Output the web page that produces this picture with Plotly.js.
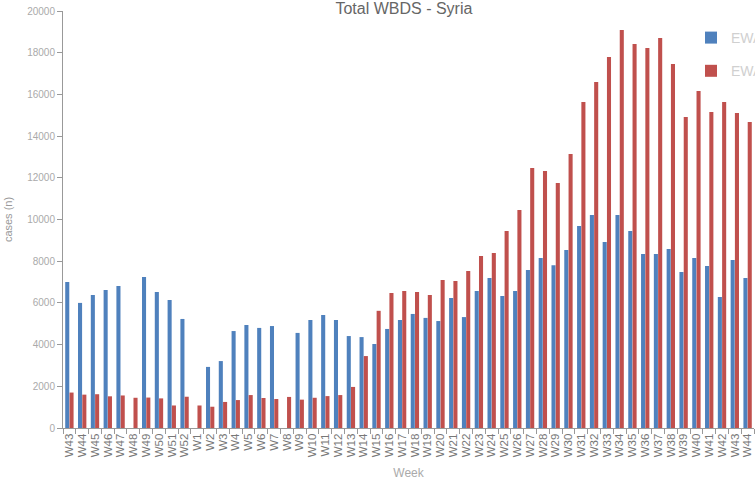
<!DOCTYPE html>
<html>
<head>
<meta charset="utf-8">
<script src="https://cdn.plot.ly/plotly-3.0.1.min.js"></script>
<style>html,body{margin:0;padding:0;background:#fff;overflow:hidden;}#chart{width:755px;height:497px;}</style>
</head>
<body>
<div id="chart"></div>
<script>
// season / week keys (unique) and displayed week labels
const seasons = ["2012","2012","2012","2012","2012","2012","2012","2012","2012","2012",
  "2013","2013","2013","2013","2013","2013","2013","2013","2013","2013","2013","2013","2013","2013","2013",
  "2013","2013","2013","2013","2013","2013","2013","2013","2013","2013","2013","2013","2013","2013","2013",
  "2013","2013","2013","2013","2013","2013","2013","2013","2013","2013","2013","2013","2013","2013"];
const weeks = ["W43","W44","W45","W46","W47","W48","W49","W50","W51","W52",
  "W1","W2","W3","W4","W5","W6","W7","W8","W9","W10","W11","W12","W13","W14","W15",
  "W16","W17","W18","W19","W20","W21","W22","W23","W24","W25","W26","W27","W28","W29","W30",
  "W31","W32","W33","W34","W35","W36","W37","W38","W39","W40","W41","W42","W43","W44"];
const seriesA = [7000,6000,6380,6620,6810,0,7240,6520,6140,5230,
  0,2930,3210,4650,4940,4800,4890,0,4560,5180,5420,5180,4410,4360,4030,
  4750,5180,5470,5280,5130,6240,5320,6570,7190,6330,6570,7580,8150,7800,8540,
  9690,10220,8920,10220,9450,8350,8350,8590,7480,8150,7770,6280,8060,7190];
const seriesB = [1700,1600,1620,1520,1560,1450,1460,1420,1080,1500,
  1080,1020,1250,1340,1580,1440,1390,1490,1360,1450,1530,1580,1970,3450,5620,
  6470,6570,6520,6380,7100,7050,7530,8250,8390,9450,10460,12470,12330,11750,13140,
  15640,16590,17790,19090,18420,18230,18700,17460,14920,16160,15160,15640,15110,14680];
const nameA = "EWARN 2012-13";
const nameB = "EWARN 2013-14";

const keys = weeks.map((w, i) => seasons[i] + "-" + w);

const traces = [
  {type:"bar", x:keys, y:seriesA, name:nameA, legendgroup:"a",
   marker:{color:"#4F81BD"}},
  {type:"bar", x:keys, y:seriesB, name:nameB, legendgroup:"b",
   marker:{color:"#C0504D"}}
];
const layout = {
  width:755, height:497,
  margin:{l:63, r:1, t:11, b:69, autoexpand:false},
  paper_bgcolor:"#fff", plot_bgcolor:"#fff",
  font:{family:"Liberation Sans, Arial, sans-serif", color:"#888"},
  title:{text:"Total WBDS - Syria", x:0.535, xanchor:"center", y:0.994, yanchor:"top",
         font:{size:16, color:"#666"}},
  barmode:"group", bargap:0.33, bargroupgap:0.05,
  showlegend:true,
  legend:{x:0.944, xanchor:"left", y:0.985, yanchor:"top", bgcolor:"rgba(0,0,0,0)",
          font:{size:14, color:"#d0d0d0"}, tracegroupgap:12, traceorder:"grouped"},
  xaxis:{type:"category", categoryorder:"array", categoryarray:keys,
         tickmode:"array", tickvals:keys, ticktext:weeks,
         showgrid:false, showline:true, linecolor:"#999", linewidth:1,
         ticks:"outside", ticklen:5, tickcolor:"#999", tickson:"boundaries",
         tickangle:-90, tickfont:{size:11.5, color:"#777"},
         title:{text:"Week", font:{size:12, color:"#aaa"}, standoff:12}},
  yaxis:{range:[0,20000], dtick:2000, showgrid:false, showline:true, linecolor:"#999",
         linewidth:1, ticks:"outside", ticklen:5, tickcolor:"#999", zeroline:false,
         tickfont:{size:10, color:"#aaa"}, tickformat:"d",
         title:{text:"cases (n)", font:{size:11, color:"#999"}, standoff:12}}
};
Plotly.newPlot("chart", traces, layout, {displayModeBar:false, staticPlot:true}).then(function(gd){
  // the reference legend sits at the far right edge and is cut off by the frame
  var lg = gd.querySelector("g.legend");
  if (lg) lg.setAttribute("transform", "translate(691,22)");
});
</script>
</body>
</html>
